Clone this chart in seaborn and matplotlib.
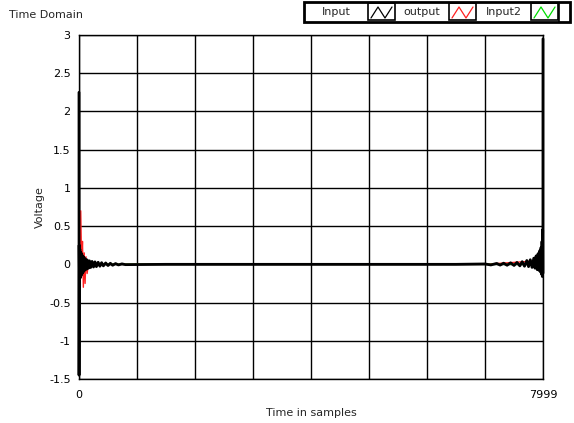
import numpy as np
import pandas as pd
import matplotlib
matplotlib.use("Agg")
import matplotlib.pyplot as plt
from matplotlib.patches import Rectangle
import seaborn as sns

# ---- data (sample index, voltage) ----
input_x = [0, 1, 4, 8, 14, 20, 28, 36, 45, 55, 65, 75, 85, 95, 110, 125,
           140, 160, 180, 200, 225, 250, 275, 300, 330, 360, 390, 420, 460, 500,
           540, 580, 630, 680, 740, 800, 1500, 3000, 5000, 6500, 7000, 7100,
           7200, 7260, 7320, 7380, 7440, 7500, 7550, 7600, 7640, 7680, 7720,
           7750, 7780, 7810, 7840, 7860, 7880, 7900, 7915, 7930, 7945, 7955,
           7965, 7975, 7982, 7988, 7993, 7996, 7998, 7999]
input_y = [2.25, -1.45, 0.25, -0.2, 0.2, -0.18, 0.16, -0.15, 0.14, -0.12,
           0.11, -0.1, 0.09, -0.08, 0.07, -0.065, 0.058, -0.052, 0.046, -0.042,
           0.038, -0.035, 0.032, -0.03, 0.027, -0.025, 0.022, -0.02, 0.018,
           -0.016, 0.014, -0.012, 0.01, -0.008, 0.006, -0.004, 0.0, 0.0, 0.0,
           0.0, 0.005, -0.008, 0.012, -0.01, 0.015, -0.012, 0.02, -0.015, 0.025,
           -0.02, 0.035, -0.025, 0.05, -0.03, 0.06, -0.04, 0.08, -0.05, 0.11,
           -0.07, 0.14, -0.08, 0.18, -0.1, 0.22, -0.13, 0.3, -0.16, 0.45, -0.12,
           0.62, 2.95]

output_x = [0, 15, 30, 45, 60, 75, 90, 105, 120, 140, 170, 200, 260, 350,
            7000, 7990, 7996, 7999]
output_y = [0.0, 0.2, 0.7, 0.0, 0.3, -0.3, 0.15, -0.25, 0.1, -0.12, 0.05,
            -0.04, 0.02, 0.0, 0.0, 0.05, 0.21, 0.41]

input2_x = [0, 7000, 7995, 7999]
input2_y = [0.0, 0.0, 0.0, 0.02]

y_ticks = [-1.5, -1, -0.5, 0, 0.5, 1, 1.5, 2, 2.5, 3]
x_ticks = [0, 7999]
x_grid = [1000, 2000, 3000, 4000, 5000, 6000, 7000]

sns.set_style("white")
plt.rcParams["font.family"] = ["DejaVu Sans"]
FS = 8

fig = plt.figure(figsize=(5.74, 4.23), dpi=100)
ax = fig.add_axes([79 / 574, 1 - 379 / 423, 464 / 574, 344 / 423])

# LabVIEW draws the black trace over the others here
sns.lineplot(x=output_x, y=output_y, color="#ff2020", lw=1.0, ax=ax, zorder=3,
             clip_on=False)
sns.lineplot(x=input2_x, y=input2_y, color="#00dd00", lw=1.0, ax=ax, zorder=3.5,
             clip_on=False)
sns.lineplot(x=input_x, y=input_y, color="black", lw=2.0, ax=ax, zorder=4,
             clip_on=False)

ax.set_xlim(0, 7999)
ax.set_ylim(-1.5, 3)
ax.set_yticks(y_ticks)
ax.set_yticklabels([f"{v:g}" for v in y_ticks])
ax.set_xticks(x_ticks)
ax.set_xticks(x_grid, minor=True)
ax.grid(True, which="both", color="black", lw=1.0)
ax.set_axisbelow(True)
ax.tick_params(axis="both", which="major", direction="out", length=4,
               width=1, color="black", labelsize=FS, labelcolor="black", pad=2)
ax.tick_params(axis="x", which="major", pad=4)
ax.tick_params(axis="x", which="minor", length=0)
for s in ax.spines.values():
    s.set_color("black")
    s.set_linewidth(1.0)
ax.set_xlabel("Time in samples", fontsize=FS, labelpad=6)
ax.set_ylabel("Voltage", fontsize=FS, labelpad=3)

fig.text(9 / 574, 1 - 15 / 423, "Time Domain", fontsize=FS, va="center", ha="left")

# ---- LabVIEW style plot legend ----
lg = fig.add_axes([304 / 574, 1 - 22 / 423, 266 / 574, 20 / 423])
lg.set_xlim(0, 266)
lg.set_ylim(20, 0)
lg.axis("off")
lg.add_patch(Rectangle((0, 0), 266, 20, fill=False, ec="black", lw=2, clip_on=False))
names = ["Input", "output", "Input2"]
colors = ["black", "#ff2020", "#00dd00"]
cells = [(0, 64), (91, 145), (173, 227)]
for (a, b), name, col in zip(cells, names, colors):
    lg.text((a + b) / 2, 10, name, fontsize=FS, ha="center", va="center")
    lg.add_patch(Rectangle((b, 1.5), 27, 17, fill=False, ec="black", lw=1.2))
    zx = [b + 3, b + 10, b + 17, b + 24]
    zy = [16, 5, 16, 5]
    lg.plot(zx, zy, color=col, lw=0.9)
lg.plot([255, 255], [0, 20], color="black", lw=1.2)

fig.savefig("out.png", dpi=100)
